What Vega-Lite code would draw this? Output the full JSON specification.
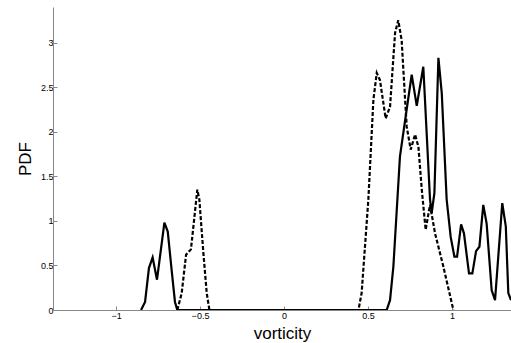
{
  "$schema": "https://vega.github.io/schema/vega-lite/v6.json",
  "autosize": "none",
  "width": 458,
  "height": 303,
  "padding": {"left": 53, "top": 7, "right": 0, "bottom": 33},
  "background": "white",
  "config": {"view": {"stroke": null}, "font": "Liberation Sans"},
  "datasets": {
    "solid": [
      {"x": -0.851, "y": 0.0}, {"x": -0.827, "y": 0.09}, {"x": -0.804, "y": 0.47}, {"x": -0.782, "y": 0.59},
      {"x": -0.756, "y": 0.34}, {"x": -0.712, "y": 0.98}, {"x": -0.692, "y": 0.88}, {"x": -0.669, "y": 0.45},
      {"x": -0.649, "y": 0.09}, {"x": -0.635, "y": 0.0}, {"x": 0.611, "y": 0.0}, {"x": 0.631, "y": 0.11},
      {"x": 0.651, "y": 0.49}, {"x": 0.69, "y": 1.72}, {"x": 0.73, "y": 2.25}, {"x": 0.76, "y": 2.64},
      {"x": 0.79, "y": 2.29}, {"x": 0.829, "y": 2.73}, {"x": 0.869, "y": 1.24}, {"x": 0.879, "y": 1.09},
      {"x": 0.895, "y": 1.31}, {"x": 0.919, "y": 2.83}, {"x": 0.939, "y": 2.43}, {"x": 0.968, "y": 1.24},
      {"x": 0.992, "y": 0.82}, {"x": 1.014, "y": 0.6}, {"x": 1.03, "y": 0.6}, {"x": 1.054, "y": 0.96},
      {"x": 1.071, "y": 0.86}, {"x": 1.101, "y": 0.41}, {"x": 1.121, "y": 0.41}, {"x": 1.143, "y": 0.66},
      {"x": 1.163, "y": 0.71}, {"x": 1.186, "y": 1.18}, {"x": 1.206, "y": 0.97}, {"x": 1.236, "y": 0.22},
      {"x": 1.256, "y": 0.11}, {"x": 1.299, "y": 1.2}, {"x": 1.32, "y": 0.94}, {"x": 1.335, "y": 0.19},
      {"x": 1.351, "y": 0.11}
    ],
    "dashed": [
      {"x": -0.635, "y": 0.0}, {"x": -0.609, "y": 0.19}, {"x": -0.583, "y": 0.62}, {"x": -0.554, "y": 0.68},
      {"x": -0.516, "y": 1.35}, {"x": -0.504, "y": 1.24}, {"x": -0.48, "y": 0.64}, {"x": -0.46, "y": 0.19},
      {"x": -0.444, "y": 0.0}, {"x": 0.443, "y": 0.0}, {"x": 0.462, "y": 0.19}, {"x": 0.502, "y": 1.24},
      {"x": 0.532, "y": 2.36}, {"x": 0.552, "y": 2.66}, {"x": 0.571, "y": 2.58}, {"x": 0.605, "y": 2.15},
      {"x": 0.631, "y": 2.28}, {"x": 0.661, "y": 3.11}, {"x": 0.68, "y": 3.25}, {"x": 0.7, "y": 3.03},
      {"x": 0.73, "y": 2.06}, {"x": 0.754, "y": 1.8}, {"x": 0.78, "y": 1.97}, {"x": 0.8, "y": 1.83},
      {"x": 0.82, "y": 1.35}, {"x": 0.843, "y": 0.9}, {"x": 0.869, "y": 1.18}, {"x": 0.899, "y": 0.86},
      {"x": 0.948, "y": 0.49}, {"x": 1.008, "y": 0.0}
    ]
  },
  "encoding": {
    "x": {
      "field": "x", "type": "quantitative",
      "scale": {"domain": [-1.375, 1.351], "nice": false, "zero": false},
      "axis": {
        "title": "vorticity", "titleFontSize": 17, "titleFontWeight": "normal", "titleColor": "black", "titlePadding": 5,
        "values": [-1, -0.5, 0, 0.5, 1], "format": "~g", "labelFontSize": 9, "labelColor": "black", "labelPadding": 5,
        "tickSize": -4, "tickColor": "#888", "domainColor": "#888", "grid": false, "labelFlush": false
      }
    },
    "y": {
      "field": "y", "type": "quantitative",
      "scale": {"domain": [0, 3.4], "nice": false},
      "axis": {
        "title": "PDF", "titleFontSize": 17, "titleFontWeight": "normal", "titleColor": "black", "titlePadding": 6,
        "values": [0, 0.5, 1, 1.5, 2, 2.5, 3], "format": "~g", "labelFontSize": 9, "labelColor": "black", "labelPadding": 4,
        "tickSize": -4, "tickColor": "#888", "domainColor": "#888", "grid": false, "labelFlush": false
      }
    }
  },
  "layer": [
    {"data": {"name": "dashed"}, "mark": {"type": "line", "color": "black", "strokeWidth": 2.2, "strokeDash": [4, 2], "clip": true}},
    {"data": {"name": "solid"}, "mark": {"type": "line", "color": "black", "strokeWidth": 2.2, "clip": true}}
  ]
}
